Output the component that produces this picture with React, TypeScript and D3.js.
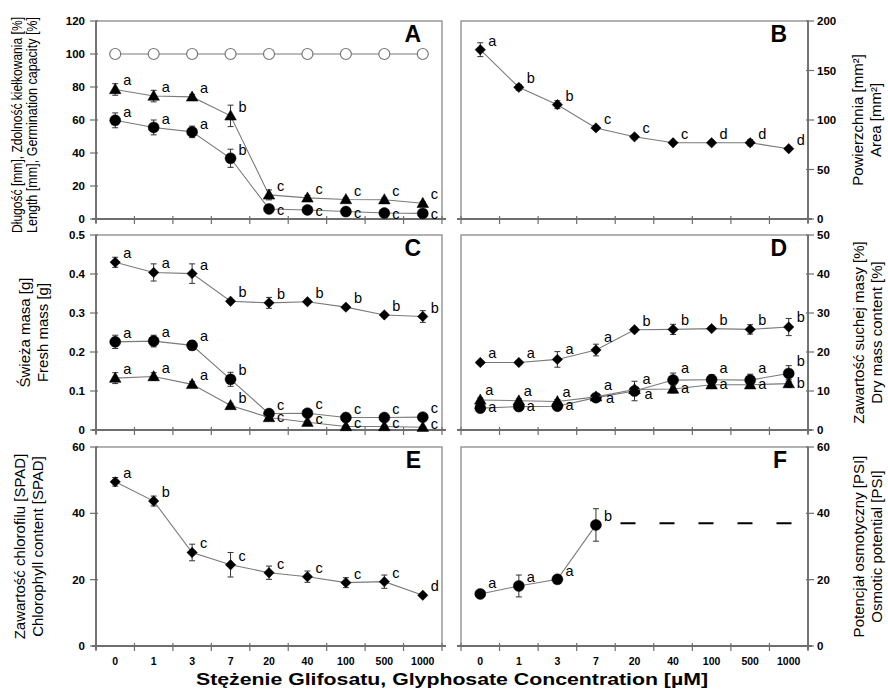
import { useEffect, useRef } from "react";
import * as d3 from "d3";

// x categories: glyphosate concentration [µM]
const concentrations = ["0", "1", "3", "7", "20", "40", "100", "500", "1000"];

// A - germination capacity (open circles), lengths (triangles, circles)
const aGermination = [100, 100, 100, 100, 100, 100, 100, 100, 100];
const aTriangle = [78.5, 74.5, 74, 62.5, 14.6, 12.8, 11.8, 11.7, 9.5];
const aTriangleErr = [3.5, 3.5, 1.5, 6.5, 3, 1.5, 1, 1, 1];
const aTriangleLetters = ["a", "a", "a", "b", "c", "c", "c", "c", "c"];
const aCircle = [59.8, 55.5, 52.8, 36.8, 6.1, 5.5, 4.5, 3.6, 3.4];
const aCircleErr = [4.5, 4.5, 3.5, 5.5, 1, 1, 1, 1, 1];
const aCircleLetters = ["a", "a", "a", "b", "c", "c", "c", "c", "c"];

// B - area [mm2]
const bArea = [171, 133, 115.5, 92, 83, 77, 77, 77, 71];
const bAreaErr = [7, 3, 4, 2, 2, 1.5, 1.5, 3, 1];
const bAreaLetters = ["a", "b", "b", "c", "c", "c", "d", "d", "d"];

// C - fresh mass [g]
const cDiamond = [0.43, 0.404, 0.401, 0.33, 0.326, 0.329, 0.315, 0.295, 0.291];
const cDiamondErr = [0.013, 0.022, 0.025, 0.004, 0.014, 0.004, 0.005, 0.005, 0.015];
const cDiamondLetters = ["a", "a", "a", "b", "b", "b", "b", "b", "b"];
const cCircle = [0.226, 0.228, 0.217, 0.13, 0.042, 0.043, 0.032, 0.032, 0.033];
const cCircleErr = [0.017, 0.015, 0.012, 0.018, 0.005, 0.004, 0.004, 0.003, 0.004];
const cCircleLetters = ["a", "a", "a", "b", "c", "c", "c", "c", "c"];
const cTriangle = [0.133, 0.137, 0.117, 0.063, 0.032, 0.02, 0.009, 0.009, 0.007];
const cTriangleErr = [0.014, 0.01, 0.007, 0.004, 0.004, 0.003, 0.002, 0.002, 0.002];
const cTriangleLetters = ["a", "a", "a", "b", "c", "c", "c", "c", "c"];

// D - dry mass content [%]
const dDiamond = [17.3, 17.3, 18.1, 20.5, 25.7, 25.8, 26.0, 25.8, 26.4];
const dDiamondErr = [0.5, 0.5, 2, 1.5, 0.5, 1.3, 0.5, 1.2, 2.2];
const dDiamondLetters = ["a", "a", "a", "a", "b", "b", "b", "b", "b"];
const dCircle = [5.6, 6.0, 6.1, 8.3, 10.0, 12.8, 12.9, 12.8, 14.5];
const dCircleErr = [0.5, 0.5, 0.5, 0.5, 2.5, 1.8, 1.3, 1.5, 2];
const dCircleLetters = ["a", "a", "a", "a", "a", "a", "a", "a", "b"];
const dTriangle = [7.7, 7.5, 7.3, 8.5, 10.4, 10.5, 11.6, 11.6, 11.9];
const dTriangleErr = [0.5, 0.5, 0.5, 0.5, 0.5, 1, 0.5, 0.5, 1];
const dTriangleLetters = ["a", "a", "a", "a", "a", "a", "a", "a", "b"];

// E - chlorophyll content [SPAD]
const eChlorophyll = [49.5, 43.7, 28.2, 24.5, 22.1, 20.9, 19.1, 19.4, 15.3];
const eChlorophyllErr = [1.3, 1.5, 2.5, 3.7, 2, 1.7, 1.5, 2, 0.5];
const eChlorophyllLetters = ["a", "b", "c", "c", "c", "c", "c", "c", "d"];

// F - osmotic potential [PSI]
const fOsmotic = [15.7, 18.1, 20.1, 36.5];
const fOsmoticErr = [0.5, 3.3, 0.5, 4.9];
const fOsmoticLetters = ["a", "a", "a", "b"];
const fDashedLevel = 37;

const FONT = "'Liberation Sans', Arial, sans-serif";

const markerPath = (shape: string) => {
  if (shape === "diamond") return "M0,-5.2L5.2,0L0,5.2L-5.2,0Z";
  if (shape === "triangle") return "M0,-6L5.8,4.2L-5.8,4.2Z";
  return d3.symbol(d3.symbolCircle, 95)() as string;
};

type Series = {
  values: number[];
  err?: number[];
  letters?: string[];
  shape: string;
  open?: boolean;
  labelDy?: number[];
  labelDx?: number[];
};

type Panel = {
  x0: number;
  x1: number;
  top: number;
  bottom: number;
  max: number;
  step: number;
  fmt: (v: number) => string;
  side: "left" | "right";
  letter: string;
  series: Series[];
  xLabels: boolean;
  title: string[];
  titleX: number[];
  titleY?: number;
  titleLen?: number;
  titleSize?: number;
};

const panels: Panel[] = [
  {
    x0: 96, x1: 442, top: 21, bottom: 219, max: 120, step: 20, fmt: d3.format("d"),
    side: "left", letter: "A", xLabels: false,
    title: ["Długość [mm], Zdolność kiełkowania [%]", "Length [mm], Germination capacity [%]"],
    titleX: [17, 32], titleY: 125, titleLen: 216, titleSize: 14,
    series: [
      { values: aGermination, shape: "circle", open: true },
      { values: aTriangle, err: aTriangleErr, letters: aTriangleLetters, shape: "triangle" },
      {
        values: aCircle, err: aCircleErr, letters: aCircleLetters, shape: "circle",
        labelDy: [-3, -3, -3, -3, 6, 6, 6, 6, 6],
      },
    ],
  },
  {
    x0: 461, x1: 808, top: 21, bottom: 219, max: 200, step: 50, fmt: d3.format("d"),
    side: "right", letter: "B", xLabels: false,
    title: ["Powierzchnia [mm²]", "Area [mm²]"], titleX: [857, 875],
    series: [{ values: bArea, err: bAreaErr, letters: bAreaLetters, shape: "diamond" }],
  },
  {
    x0: 96, x1: 442, top: 235, bottom: 430, max: 0.5, step: 0.1, fmt: (v) => (v === 0 ? "0" : d3.format(".1f")(v)),
    side: "left", letter: "C", xLabels: false,
    title: ["Świeża masa [g]", "Fresh mass [g]"], titleX: [24, 42],
    series: [
      { values: cDiamond, err: cDiamondErr, letters: cDiamondLetters, shape: "diamond" },
      { values: cCircle, err: cCircleErr, letters: cCircleLetters, shape: "circle" },
      {
        values: cTriangle, err: cTriangleErr, letters: cTriangleLetters, shape: "triangle",
        labelDy: [-4, -4, -4, -2, 4, 2, 2, 2, 2],
      },
    ],
  },
  {
    x0: 461, x1: 808, top: 235, bottom: 430, max: 50, step: 10, fmt: d3.format("d"),
    side: "right", letter: "D", xLabels: false,
    title: ["Zawartość suchej masy [%]", "Dry mass content [%]"], titleX: [858, 876],
    series: [
      {
        values: dDiamond, err: dDiamondErr, letters: dDiamondLetters, shape: "diamond",
        labelDy: [-5, -5, -5, -8, -4, -4, -4, -4, -5],
      },
      {
        values: dCircle, err: dCircleErr, letters: dCircleLetters, shape: "circle",
        labelDy: [4, 4, 4, -8, -7, -7, -7, -7, -7],
      },
      {
        values: dTriangle, err: dTriangleErr, letters: dTriangleLetters, shape: "triangle",
        labelDy: [-5, -5, -5, 6, 10, 4, 4, 4, 4],
        labelDx: [5, 5, 5, 10, 10, 8, 8, 8, 8],
      },
    ],
  },
  {
    x0: 96, x1: 442, top: 447, bottom: 646, max: 60, step: 20, fmt: d3.format("d"),
    side: "left", letter: "E", xLabels: true,
    title: ["Zawartość chlorofilu [SPAD]", "Chlorophyll content [SPAD]"], titleX: [19, 37],
    series: [{ values: eChlorophyll, err: eChlorophyllErr, letters: eChlorophyllLetters, shape: "diamond" }],
  },
  {
    x0: 461, x1: 808, top: 447, bottom: 646, max: 60, step: 20, fmt: d3.format("d"),
    side: "right", letter: "F", xLabels: true,
    title: ["Potencjał osmotyczny [PSI]", "Osmotic potential [PSI]"], titleX: [858, 876],
    series: [{ values: fOsmotic, err: fOsmoticErr, letters: fOsmoticLetters, shape: "circle", labelDy: [-6, -4, -3, -4] }],
  },
];

const App = () => {
  const ref = useRef<SVGSVGElement>(null);

  useEffect(() => {
    document.body.style.margin = "0";
    const svg = d3.select(ref.current);
    svg.selectAll("*").remove();
    svg.attr("width", 888).attr("height", 690).style("font-family", FONT);

    panels.forEach((p) => {
      const g = svg.append("g");
      const x = d3.scaleBand().domain(concentrations).range([p.x0, p.x1]);
      const cx = (c: string) => (x(c) as number) + x.bandwidth() / 2;
      const y = d3.scaleLinear().domain([0, p.max]).range([p.bottom, p.top]);
      const axisColor = "#6e6e6e";

      // frame
      g.append("rect")
        .attr("x", p.x0).attr("y", p.top)
        .attr("width", p.x1 - p.x0).attr("height", p.bottom - p.top)
        .attr("fill", "none").attr("stroke", "#8a8a8a").attr("stroke-width", 1.3);

      // y axis
      const ax = p.side === "left" ? p.x0 : p.x1;
      const yTicks = d3.range(0, p.max + p.step / 2, p.step);
      g.append("line").attr("x1", ax).attr("x2", ax).attr("y1", p.top).attr("y2", p.bottom + 4)
        .attr("stroke", axisColor).attr("stroke-width", 1.8);
      g.selectAll(".yt").data(yTicks).join("line")
        .attr("x1", p.side === "left" ? ax - 6 : ax - 2)
        .attr("x2", p.side === "left" ? ax + 2 : ax + 6)
        .attr("y1", (d) => y(d)).attr("y2", (d) => y(d))
        .attr("stroke", axisColor).attr("stroke-width", 1.2);
      g.selectAll(".yl").data(yTicks).join("text")
        .attr("x", p.side === "left" ? ax - 11 : ax + 9)
        .attr("y", (d) => y(d))
        .attr("dy", "0.35em")
        .attr("text-anchor", p.side === "left" ? "end" : "start")
        .style("font-size", "11.5px").style("font-weight", "bold")
        .text((d) => p.fmt(d));

      // x axis
      g.append("line").attr("x1", p.x0 - 4).attr("x2", p.x1 + 4).attr("y1", p.bottom).attr("y2", p.bottom)
        .attr("stroke", axisColor).attr("stroke-width", 1.8);
      const bounds = d3.range(concentrations.length + 1).map((i) => p.x0 + i * x.bandwidth());
      g.selectAll(".xt").data(bounds).join("line")
        .attr("x1", (d) => d).attr("x2", (d) => d)
        .attr("y1", p.bottom - 3).attr("y2", p.bottom + 5)
        .attr("stroke", axisColor).attr("stroke-width", 1.2);
      if (p.xLabels) {
        g.selectAll(".xl").data(concentrations).join("text")
          .attr("x", (d) => cx(d)).attr("y", p.bottom + 19)
          .attr("text-anchor", "middle")
          .style("font-size", "10.5px").style("font-weight", "bold")
          .text((d) => d);
      }

      // panel letter
      g.append("text")
        .attr("x", p.x1 - 21).attr("y", p.top + 21)
        .attr("text-anchor", "end")
        .style("font-size", "23px").style("font-weight", "bold")
        .text(p.letter);

      // axis title
      const ty = p.titleY ?? (p.top + p.bottom) / 2;
      p.title.forEach((t, i) => {
        const tx = g.append("text")
          .attr("transform", `translate(${p.titleX[i]},${ty}) rotate(-90)`)
          .attr("text-anchor", "middle")
          .attr("dominant-baseline", "central")
          .style("font-size", `${p.titleSize ?? 15}px`)
          .text(t);
        if (p.titleLen) tx.attr("textLength", p.titleLen).attr("lengthAdjust", "spacingAndGlyphs");
      });

      // dashed level in F
      if (p.letter === "F") {
        g.append("line")
          .attr("x1", cx(concentrations[4]) - 14).attr("x2", p.x1 - 9)
          .attr("y1", y(fDashedLevel)).attr("y2", y(fDashedLevel))
          .attr("stroke", "#000").attr("stroke-width", 2)
          .attr("stroke-dasharray", "15 24");
      }

      p.series.forEach((s) => {
        const pts = s.values.map((v, i) => ({ c: concentrations[i], v, i }));
        const line = d3.line<{ c: string; v: number }>().x((d) => cx(d.c)).y((d) => y(d.v));
        g.append("path").datum(pts).attr("d", line)
          .attr("fill", "none").attr("stroke", "#7a7a7a").attr("stroke-width", 1.1);

        if (s.err) {
          const eg = g.append("g").attr("stroke", "#333").attr("stroke-width", 1);
          pts.forEach((d) => {
            const e = s.err![d.i];
            const px = cx(d.c);
            eg.append("line").attr("x1", px).attr("x2", px).attr("y1", y(d.v - e)).attr("y2", y(d.v + e));
            eg.append("line").attr("x1", px - 3).attr("x2", px + 3).attr("y1", y(d.v - e)).attr("y2", y(d.v - e));
            eg.append("line").attr("x1", px - 3).attr("x2", px + 3).attr("y1", y(d.v + e)).attr("y2", y(d.v + e));
          });
        }

        g.selectAll(null).data(pts).join("path")
          .attr("d", markerPath(s.shape))
          .attr("transform", (d) => `translate(${cx(d.c)},${y(d.v)})`)
          .attr("fill", s.open ? "#fff" : "#000")
          .attr("stroke", s.open ? "#777" : "#000")
          .attr("stroke-width", s.open ? 1.2 : 0.5);

        if (s.letters) {
          g.selectAll(null).data(pts).join("text")
            .attr("x", (d) => cx(d.c) + (s.labelDx ? s.labelDx[d.i] : 8))
            .attr("y", (d) => y(d.v) + (s.labelDy ? s.labelDy[d.i] : -4))
            .style("font-size", "14.5px")
            .text((d) => s.letters![d.i]);
        }
      });
    });

    svg.append("text")
      .attr("x", 452).attr("y", 685)
      .attr("text-anchor", "middle")
      .attr("textLength", 512).attr("lengthAdjust", "spacingAndGlyphs")
      .style("font-size", "16px").style("font-weight", "bold")
      .text("Stężenie Glifosatu, Glyphosate Concentration [µM]");
  }, []);

  return <svg ref={ref}></svg>;
};

export default App;
